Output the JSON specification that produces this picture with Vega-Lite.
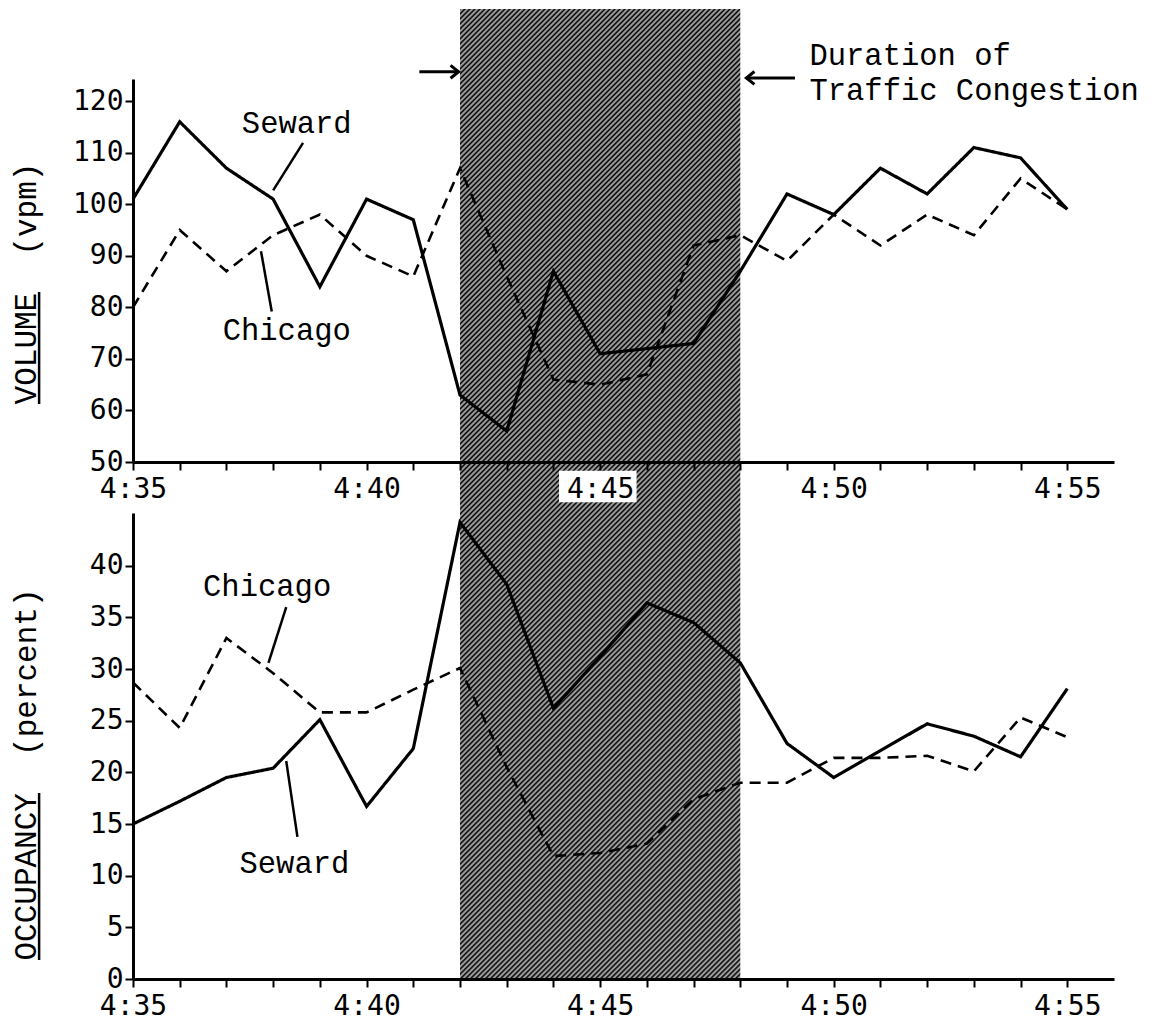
{
  "$schema": "https://vega.github.io/schema/vega-lite/v6.json",
  "padding": {"left": 9, "top": 8, "right": 5, "bottom": 5},
  "background": "white",
  "bounds": "flush",
  "spacing": 51,
  "config": {
    "view": {"stroke": null},
    "font": "Liberation Mono",
    "axis": {
      "domainColor": "black", "domainWidth": 3, "tickColor": "black", "tickWidth": 2, "tickSize": 8,
      "labelColor": "black", "labelFont": "DejaVu Sans Mono", "labelFontSize": 28, "grid": false,
      "titleFont": "Liberation Mono", "titleFontSize": 31, "titleFontWeight": "normal", "titleColor": "black"
    },
    "text": {"font": "Liberation Mono", "fontSize": 30.5, "fill": "black", "align": "left", "baseline": "alphabetic"}
  },
  "datasets": {
    "traffic": [
      {"minute": 35, "station": "Seward", "volume": 101, "occupancy": 15.0},
      {"minute": 36, "station": "Seward", "volume": 116, "occupancy": 17.2},
      {"minute": 37, "station": "Seward", "volume": 107, "occupancy": 19.5},
      {"minute": 38, "station": "Seward", "volume": 101, "occupancy": 20.4},
      {"minute": 39, "station": "Seward", "volume": 84, "occupancy": 25.1},
      {"minute": 40, "station": "Seward", "volume": 101, "occupancy": 16.7},
      {"minute": 41, "station": "Seward", "volume": 97, "occupancy": 22.3},
      {"minute": 42, "station": "Seward", "volume": 63, "occupancy": 44.2},
      {"minute": 43, "station": "Seward", "volume": 56, "occupancy": 38.2},
      {"minute": 44, "station": "Seward", "volume": 87, "occupancy": 26.2},
      {"minute": 45, "station": "Seward", "volume": 71, "occupancy": 31.2},
      {"minute": 46, "station": "Seward", "volume": 72, "occupancy": 36.4},
      {"minute": 47, "station": "Seward", "volume": 73, "occupancy": 34.5},
      {"minute": 48, "station": "Seward", "volume": 87, "occupancy": 30.6},
      {"minute": 49, "station": "Seward", "volume": 102, "occupancy": 22.8},
      {"minute": 50, "station": "Seward", "volume": 98, "occupancy": 19.5},
      {"minute": 51, "station": "Seward", "volume": 107, "occupancy": 22.1},
      {"minute": 52, "station": "Seward", "volume": 102, "occupancy": 24.7},
      {"minute": 53, "station": "Seward", "volume": 111, "occupancy": 23.5},
      {"minute": 54, "station": "Seward", "volume": 109, "occupancy": 21.5},
      {"minute": 55, "station": "Seward", "volume": 99, "occupancy": 28.1},
      {"minute": 35, "station": "Chicago", "volume": 80, "occupancy": 28.7},
      {"minute": 36, "station": "Chicago", "volume": 95, "occupancy": 24.3},
      {"minute": 37, "station": "Chicago", "volume": 87, "occupancy": 33.0},
      {"minute": 38, "station": "Chicago", "volume": 94, "occupancy": 29.6},
      {"minute": 39, "station": "Chicago", "volume": 98, "occupancy": 25.8},
      {"minute": 40, "station": "Chicago", "volume": 90, "occupancy": 25.8},
      {"minute": 41, "station": "Chicago", "volume": 86, "occupancy": 28.0},
      {"minute": 42, "station": "Chicago", "volume": 107, "occupancy": 30.1},
      {"minute": 43, "station": "Chicago", "volume": 86, "occupancy": 20.5},
      {"minute": 44, "station": "Chicago", "volume": 66, "occupancy": 11.9},
      {"minute": 45, "station": "Chicago", "volume": 65, "occupancy": 12.2},
      {"minute": 46, "station": "Chicago", "volume": 67, "occupancy": 13.1},
      {"minute": 47, "station": "Chicago", "volume": 92, "occupancy": 17.4},
      {"minute": 48, "station": "Chicago", "volume": 94, "occupancy": 19.0},
      {"minute": 49, "station": "Chicago", "volume": 89, "occupancy": 19.0},
      {"minute": 50, "station": "Chicago", "volume": 98, "occupancy": 21.4},
      {"minute": 51, "station": "Chicago", "volume": 92, "occupancy": 21.4},
      {"minute": 52, "station": "Chicago", "volume": 98, "occupancy": 21.6},
      {"minute": 53, "station": "Chicago", "volume": 94, "occupancy": 20.1},
      {"minute": 54, "station": "Chicago", "volume": 105, "occupancy": 25.3},
      {"minute": 55, "station": "Chicago", "volume": 99, "occupancy": 23.4}
    ],
    "congestion": [{"start": 42, "end": 48, "top": 137.9, "bottom": -50.3}],
    "labelBox": [{"start": 44.12, "end": 45.78, "top": 48.3, "bottom": 42.2}],
    "volumeNotes": [
      {"minute": 37.33, "value": 113.8, "note": "Seward"},
      {"minute": 36.92, "value": 73.7, "note": "Chicago"},
      {"minute": 49.48, "value": 127.0, "note": "Duration of"},
      {"minute": 49.48, "value": 120.2, "note": "Traffic Congestion"}
    ],
    "volumeLeaders": [
      {"m1": 38.64, "v1": 111.9, "m2": 38.0, "v2": 102.7},
      {"m1": 37.74, "v1": 90.9, "m2": 37.97, "v2": 79.2},
      {"m1": 32.99, "v1": 82.98, "m2": 32.99, "v2": 61.25}
    ],
    "arrows": [
      {"from": 41.13, "to": 41.97, "value": 125.7, "dir": "right"},
      {"from": 49.17, "to": 48.13, "value": 124.5, "dir": "left"}
    ],
    "occupancyNotes": [
      {"minute": 36.5, "value": 37.1, "note": "Chicago"},
      {"minute": 37.28, "value": 10.3, "note": "Seward"}
    ],
    "occupancyLeaders": [
      {"m1": 38.28, "v1": 36.0, "m2": 37.9, "v2": 30.6},
      {"m1": 38.52, "v1": 13.75, "m2": 38.28, "v2": 21.1},
      {"m1": 32.99, "v1": 18.0, "m2": 32.99, "v2": 1.84}
    ]
  },
  "vconcat": [
    {
      "width": 981,
      "height": 383,
      "layer": [
        {
          "data": {"name": "congestion"},
          "mark": {"type": "rect", "fill": {"gradient": "linear", "x1": 0, "y1": 0, "x2": 0.3437, "y2": 1.1896, "stops": [
{"offset":0,"color":"#000"},{"offset":0.002,"color":"#bbb"},{"offset":0.004,"color":"#000"},{"offset":0.006,"color":"#bbb"},{"offset":0.008,"color":"#000"},{"offset":0.01,"color":"#bbb"},{"offset":0.012,"color":"#000"},{"offset":0.014,"color":"#bbb"},{"offset":0.016,"color":"#000"},{"offset":0.018,"color":"#bbb"},
{"offset":0.02,"color":"#000"},{"offset":0.022,"color":"#bbb"},{"offset":0.024,"color":"#000"},{"offset":0.026,"color":"#bbb"},{"offset":0.028,"color":"#000"},{"offset":0.03,"color":"#bbb"},{"offset":0.032,"color":"#000"},{"offset":0.034,"color":"#bbb"},{"offset":0.036,"color":"#000"},{"offset":0.038,"color":"#bbb"},
{"offset":0.04,"color":"#000"},{"offset":0.042,"color":"#bbb"},{"offset":0.044,"color":"#000"},{"offset":0.046,"color":"#bbb"},{"offset":0.048,"color":"#000"},{"offset":0.05,"color":"#bbb"},{"offset":0.052,"color":"#000"},{"offset":0.054,"color":"#bbb"},{"offset":0.056,"color":"#000"},{"offset":0.058,"color":"#bbb"},
{"offset":0.06,"color":"#000"},{"offset":0.062,"color":"#bbb"},{"offset":0.064,"color":"#000"},{"offset":0.066,"color":"#bbb"},{"offset":0.068,"color":"#000"},{"offset":0.07,"color":"#bbb"},{"offset":0.072,"color":"#000"},{"offset":0.074,"color":"#bbb"},{"offset":0.076,"color":"#000"},{"offset":0.078,"color":"#bbb"},
{"offset":0.08,"color":"#000"},{"offset":0.082,"color":"#bbb"},{"offset":0.084,"color":"#000"},{"offset":0.086,"color":"#bbb"},{"offset":0.088,"color":"#000"},{"offset":0.09,"color":"#bbb"},{"offset":0.092,"color":"#000"},{"offset":0.094,"color":"#bbb"},{"offset":0.096,"color":"#000"},{"offset":0.098,"color":"#bbb"},
{"offset":0.1,"color":"#000"},{"offset":0.102,"color":"#bbb"},{"offset":0.104,"color":"#000"},{"offset":0.106,"color":"#bbb"},{"offset":0.108,"color":"#000"},{"offset":0.11,"color":"#bbb"},{"offset":0.112,"color":"#000"},{"offset":0.114,"color":"#bbb"},{"offset":0.116,"color":"#000"},{"offset":0.118,"color":"#bbb"},
{"offset":0.12,"color":"#000"},{"offset":0.122,"color":"#bbb"},{"offset":0.124,"color":"#000"},{"offset":0.126,"color":"#bbb"},{"offset":0.128,"color":"#000"},{"offset":0.13,"color":"#bbb"},{"offset":0.132,"color":"#000"},{"offset":0.134,"color":"#bbb"},{"offset":0.136,"color":"#000"},{"offset":0.138,"color":"#bbb"},
{"offset":0.14,"color":"#000"},{"offset":0.142,"color":"#bbb"},{"offset":0.144,"color":"#000"},{"offset":0.146,"color":"#bbb"},{"offset":0.148,"color":"#000"},{"offset":0.15,"color":"#bbb"},{"offset":0.152,"color":"#000"},{"offset":0.154,"color":"#bbb"},{"offset":0.156,"color":"#000"},{"offset":0.158,"color":"#bbb"},
{"offset":0.16,"color":"#000"},{"offset":0.162,"color":"#bbb"},{"offset":0.164,"color":"#000"},{"offset":0.166,"color":"#bbb"},{"offset":0.168,"color":"#000"},{"offset":0.17,"color":"#bbb"},{"offset":0.172,"color":"#000"},{"offset":0.174,"color":"#bbb"},{"offset":0.176,"color":"#000"},{"offset":0.178,"color":"#bbb"},
{"offset":0.18,"color":"#000"},{"offset":0.182,"color":"#bbb"},{"offset":0.184,"color":"#000"},{"offset":0.186,"color":"#bbb"},{"offset":0.188,"color":"#000"},{"offset":0.19,"color":"#bbb"},{"offset":0.192,"color":"#000"},{"offset":0.194,"color":"#bbb"},{"offset":0.196,"color":"#000"},{"offset":0.198,"color":"#bbb"},
{"offset":0.2,"color":"#000"},{"offset":0.202,"color":"#bbb"},{"offset":0.204,"color":"#000"},{"offset":0.206,"color":"#bbb"},{"offset":0.208,"color":"#000"},{"offset":0.21,"color":"#bbb"},{"offset":0.212,"color":"#000"},{"offset":0.214,"color":"#bbb"},{"offset":0.216,"color":"#000"},{"offset":0.218,"color":"#bbb"},
{"offset":0.22,"color":"#000"},{"offset":0.222,"color":"#bbb"},{"offset":0.224,"color":"#000"},{"offset":0.226,"color":"#bbb"},{"offset":0.228,"color":"#000"},{"offset":0.23,"color":"#bbb"},{"offset":0.232,"color":"#000"},{"offset":0.234,"color":"#bbb"},{"offset":0.236,"color":"#000"},{"offset":0.238,"color":"#bbb"},
{"offset":0.24,"color":"#000"},{"offset":0.242,"color":"#bbb"},{"offset":0.244,"color":"#000"},{"offset":0.246,"color":"#bbb"},{"offset":0.248,"color":"#000"},{"offset":0.25,"color":"#bbb"},{"offset":0.252,"color":"#000"},{"offset":0.254,"color":"#bbb"},{"offset":0.256,"color":"#000"},{"offset":0.258,"color":"#bbb"},
{"offset":0.26,"color":"#000"},{"offset":0.262,"color":"#bbb"},{"offset":0.264,"color":"#000"},{"offset":0.266,"color":"#bbb"},{"offset":0.268,"color":"#000"},{"offset":0.27,"color":"#bbb"},{"offset":0.272,"color":"#000"},{"offset":0.274,"color":"#bbb"},{"offset":0.276,"color":"#000"},{"offset":0.278,"color":"#bbb"},
{"offset":0.28,"color":"#000"},{"offset":0.282,"color":"#bbb"},{"offset":0.284,"color":"#000"},{"offset":0.286,"color":"#bbb"},{"offset":0.288,"color":"#000"},{"offset":0.29,"color":"#bbb"},{"offset":0.292,"color":"#000"},{"offset":0.294,"color":"#bbb"},{"offset":0.296,"color":"#000"},{"offset":0.298,"color":"#bbb"},
{"offset":0.3,"color":"#000"},{"offset":0.302,"color":"#bbb"},{"offset":0.304,"color":"#000"},{"offset":0.306,"color":"#bbb"},{"offset":0.308,"color":"#000"},{"offset":0.31,"color":"#bbb"},{"offset":0.312,"color":"#000"},{"offset":0.314,"color":"#bbb"},{"offset":0.316,"color":"#000"},{"offset":0.318,"color":"#bbb"},
{"offset":0.32,"color":"#000"},{"offset":0.322,"color":"#bbb"},{"offset":0.324,"color":"#000"},{"offset":0.326,"color":"#bbb"},{"offset":0.328,"color":"#000"},{"offset":0.33,"color":"#bbb"},{"offset":0.332,"color":"#000"},{"offset":0.334,"color":"#bbb"},{"offset":0.336,"color":"#000"},{"offset":0.338,"color":"#bbb"},
{"offset":0.34,"color":"#000"},{"offset":0.342,"color":"#bbb"},{"offset":0.344,"color":"#000"},{"offset":0.346,"color":"#bbb"},{"offset":0.348,"color":"#000"},{"offset":0.35,"color":"#bbb"},{"offset":0.352,"color":"#000"},{"offset":0.354,"color":"#bbb"},{"offset":0.356,"color":"#000"},{"offset":0.358,"color":"#bbb"},
{"offset":0.36,"color":"#000"},{"offset":0.362,"color":"#bbb"},{"offset":0.364,"color":"#000"},{"offset":0.366,"color":"#bbb"},{"offset":0.368,"color":"#000"},{"offset":0.37,"color":"#bbb"},{"offset":0.372,"color":"#000"},{"offset":0.374,"color":"#bbb"},{"offset":0.376,"color":"#000"},{"offset":0.378,"color":"#bbb"},
{"offset":0.38,"color":"#000"},{"offset":0.382,"color":"#bbb"},{"offset":0.384,"color":"#000"},{"offset":0.386,"color":"#bbb"},{"offset":0.388,"color":"#000"},{"offset":0.39,"color":"#bbb"},{"offset":0.392,"color":"#000"},{"offset":0.394,"color":"#bbb"},{"offset":0.396,"color":"#000"},{"offset":0.398,"color":"#bbb"},
{"offset":0.4,"color":"#000"},{"offset":0.402,"color":"#bbb"},{"offset":0.404,"color":"#000"},{"offset":0.406,"color":"#bbb"},{"offset":0.408,"color":"#000"},{"offset":0.41,"color":"#bbb"},{"offset":0.412,"color":"#000"},{"offset":0.414,"color":"#bbb"},{"offset":0.416,"color":"#000"},{"offset":0.418,"color":"#bbb"},
{"offset":0.42,"color":"#000"},{"offset":0.422,"color":"#bbb"},{"offset":0.424,"color":"#000"},{"offset":0.426,"color":"#bbb"},{"offset":0.428,"color":"#000"},{"offset":0.43,"color":"#bbb"},{"offset":0.432,"color":"#000"},{"offset":0.434,"color":"#bbb"},{"offset":0.436,"color":"#000"},{"offset":0.438,"color":"#bbb"},
{"offset":0.44,"color":"#000"},{"offset":0.442,"color":"#bbb"},{"offset":0.444,"color":"#000"},{"offset":0.446,"color":"#bbb"},{"offset":0.448,"color":"#000"},{"offset":0.45,"color":"#bbb"},{"offset":0.452,"color":"#000"},{"offset":0.454,"color":"#bbb"},{"offset":0.456,"color":"#000"},{"offset":0.458,"color":"#bbb"},
{"offset":0.46,"color":"#000"},{"offset":0.462,"color":"#bbb"},{"offset":0.464,"color":"#000"},{"offset":0.466,"color":"#bbb"},{"offset":0.468,"color":"#000"},{"offset":0.47,"color":"#bbb"},{"offset":0.472,"color":"#000"},{"offset":0.474,"color":"#bbb"},{"offset":0.476,"color":"#000"},{"offset":0.478,"color":"#bbb"},
{"offset":0.48,"color":"#000"},{"offset":0.482,"color":"#bbb"},{"offset":0.484,"color":"#000"},{"offset":0.486,"color":"#bbb"},{"offset":0.488,"color":"#000"},{"offset":0.49,"color":"#bbb"},{"offset":0.492,"color":"#000"},{"offset":0.494,"color":"#bbb"},{"offset":0.496,"color":"#000"},{"offset":0.498,"color":"#bbb"},
{"offset":0.5,"color":"#000"},{"offset":0.502,"color":"#bbb"},{"offset":0.504,"color":"#000"},{"offset":0.506,"color":"#bbb"},{"offset":0.508,"color":"#000"},{"offset":0.51,"color":"#bbb"},{"offset":0.512,"color":"#000"},{"offset":0.514,"color":"#bbb"},{"offset":0.516,"color":"#000"},{"offset":0.518,"color":"#bbb"},
{"offset":0.52,"color":"#000"},{"offset":0.522,"color":"#bbb"},{"offset":0.524,"color":"#000"},{"offset":0.526,"color":"#bbb"},{"offset":0.528,"color":"#000"},{"offset":0.53,"color":"#bbb"},{"offset":0.532,"color":"#000"},{"offset":0.534,"color":"#bbb"},{"offset":0.536,"color":"#000"},{"offset":0.538,"color":"#bbb"},
{"offset":0.54,"color":"#000"},{"offset":0.542,"color":"#bbb"},{"offset":0.544,"color":"#000"},{"offset":0.546,"color":"#bbb"},{"offset":0.548,"color":"#000"},{"offset":0.55,"color":"#bbb"},{"offset":0.552,"color":"#000"},{"offset":0.554,"color":"#bbb"},{"offset":0.556,"color":"#000"},{"offset":0.558,"color":"#bbb"},
{"offset":0.56,"color":"#000"},{"offset":0.562,"color":"#bbb"},{"offset":0.564,"color":"#000"},{"offset":0.566,"color":"#bbb"},{"offset":0.568,"color":"#000"},{"offset":0.57,"color":"#bbb"},{"offset":0.572,"color":"#000"},{"offset":0.574,"color":"#bbb"},{"offset":0.576,"color":"#000"},{"offset":0.578,"color":"#bbb"},
{"offset":0.58,"color":"#000"},{"offset":0.582,"color":"#bbb"},{"offset":0.584,"color":"#000"},{"offset":0.586,"color":"#bbb"},{"offset":0.588,"color":"#000"},{"offset":0.59,"color":"#bbb"},{"offset":0.592,"color":"#000"},{"offset":0.594,"color":"#bbb"},{"offset":0.596,"color":"#000"},{"offset":0.598,"color":"#bbb"},
{"offset":0.6,"color":"#000"},{"offset":0.602,"color":"#bbb"},{"offset":0.604,"color":"#000"},{"offset":0.606,"color":"#bbb"},{"offset":0.608,"color":"#000"},{"offset":0.61,"color":"#bbb"},{"offset":0.612,"color":"#000"},{"offset":0.614,"color":"#bbb"},{"offset":0.616,"color":"#000"},{"offset":0.618,"color":"#bbb"},
{"offset":0.62,"color":"#000"},{"offset":0.622,"color":"#bbb"},{"offset":0.624,"color":"#000"},{"offset":0.626,"color":"#bbb"},{"offset":0.628,"color":"#000"},{"offset":0.63,"color":"#bbb"},{"offset":0.632,"color":"#000"},{"offset":0.634,"color":"#bbb"},{"offset":0.636,"color":"#000"},{"offset":0.638,"color":"#bbb"},
{"offset":0.64,"color":"#000"},{"offset":0.642,"color":"#bbb"},{"offset":0.644,"color":"#000"},{"offset":0.646,"color":"#bbb"},{"offset":0.648,"color":"#000"},{"offset":0.65,"color":"#bbb"},{"offset":0.652,"color":"#000"},{"offset":0.654,"color":"#bbb"},{"offset":0.656,"color":"#000"},{"offset":0.658,"color":"#bbb"},
{"offset":0.66,"color":"#000"},{"offset":0.662,"color":"#bbb"},{"offset":0.664,"color":"#000"},{"offset":0.666,"color":"#bbb"},{"offset":0.668,"color":"#000"},{"offset":0.67,"color":"#bbb"},{"offset":0.672,"color":"#000"},{"offset":0.674,"color":"#bbb"},{"offset":0.676,"color":"#000"},{"offset":0.678,"color":"#bbb"},
{"offset":0.68,"color":"#000"},{"offset":0.682,"color":"#bbb"},{"offset":0.684,"color":"#000"},{"offset":0.686,"color":"#bbb"},{"offset":0.688,"color":"#000"},{"offset":0.69,"color":"#bbb"},{"offset":0.692,"color":"#000"},{"offset":0.694,"color":"#bbb"},{"offset":0.696,"color":"#000"},{"offset":0.698,"color":"#bbb"},
{"offset":0.7,"color":"#000"},{"offset":0.702,"color":"#bbb"},{"offset":0.704,"color":"#000"},{"offset":0.706,"color":"#bbb"},{"offset":0.708,"color":"#000"},{"offset":0.71,"color":"#bbb"},{"offset":0.712,"color":"#000"},{"offset":0.714,"color":"#bbb"},{"offset":0.716,"color":"#000"},{"offset":0.718,"color":"#bbb"},
{"offset":0.72,"color":"#000"},{"offset":0.722,"color":"#bbb"},{"offset":0.724,"color":"#000"},{"offset":0.726,"color":"#bbb"},{"offset":0.728,"color":"#000"},{"offset":0.73,"color":"#bbb"},{"offset":0.732,"color":"#000"},{"offset":0.734,"color":"#bbb"},{"offset":0.736,"color":"#000"},{"offset":0.738,"color":"#bbb"},
{"offset":0.74,"color":"#000"},{"offset":0.742,"color":"#bbb"},{"offset":0.744,"color":"#000"},{"offset":0.746,"color":"#bbb"},{"offset":0.748,"color":"#000"},{"offset":0.75,"color":"#bbb"},{"offset":0.752,"color":"#000"},{"offset":0.754,"color":"#bbb"},{"offset":0.756,"color":"#000"},{"offset":0.758,"color":"#bbb"},
{"offset":0.76,"color":"#000"},{"offset":0.762,"color":"#bbb"},{"offset":0.764,"color":"#000"},{"offset":0.766,"color":"#bbb"},{"offset":0.768,"color":"#000"},{"offset":0.77,"color":"#bbb"},{"offset":0.772,"color":"#000"},{"offset":0.774,"color":"#bbb"},{"offset":0.776,"color":"#000"},{"offset":0.778,"color":"#bbb"},
{"offset":0.78,"color":"#000"},{"offset":0.782,"color":"#bbb"},{"offset":0.784,"color":"#000"},{"offset":0.786,"color":"#bbb"},{"offset":0.788,"color":"#000"},{"offset":0.79,"color":"#bbb"},{"offset":0.792,"color":"#000"},{"offset":0.794,"color":"#bbb"},{"offset":0.796,"color":"#000"},{"offset":0.798,"color":"#bbb"},
{"offset":0.8,"color":"#000"},{"offset":0.802,"color":"#bbb"},{"offset":0.804,"color":"#000"},{"offset":0.806,"color":"#bbb"},{"offset":0.808,"color":"#000"},{"offset":0.81,"color":"#bbb"},{"offset":0.812,"color":"#000"},{"offset":0.814,"color":"#bbb"},{"offset":0.816,"color":"#000"},{"offset":0.818,"color":"#bbb"},
{"offset":0.82,"color":"#000"},{"offset":0.822,"color":"#bbb"},{"offset":0.824,"color":"#000"},{"offset":0.826,"color":"#bbb"},{"offset":0.828,"color":"#000"},{"offset":0.83,"color":"#bbb"},{"offset":0.832,"color":"#000"},{"offset":0.834,"color":"#bbb"},{"offset":0.836,"color":"#000"},{"offset":0.838,"color":"#bbb"},
{"offset":0.84,"color":"#000"},{"offset":0.842,"color":"#bbb"},{"offset":0.844,"color":"#000"},{"offset":0.846,"color":"#bbb"},{"offset":0.848,"color":"#000"},{"offset":0.85,"color":"#bbb"},{"offset":0.852,"color":"#000"},{"offset":0.854,"color":"#bbb"},{"offset":0.856,"color":"#000"},{"offset":0.858,"color":"#bbb"},
{"offset":0.86,"color":"#000"},{"offset":0.862,"color":"#bbb"},{"offset":0.864,"color":"#000"},{"offset":0.866,"color":"#bbb"},{"offset":0.868,"color":"#000"},{"offset":0.87,"color":"#bbb"},{"offset":0.872,"color":"#000"},{"offset":0.874,"color":"#bbb"},{"offset":0.876,"color":"#000"},{"offset":0.878,"color":"#bbb"},
{"offset":0.88,"color":"#000"},{"offset":0.882,"color":"#bbb"},{"offset":0.884,"color":"#000"},{"offset":0.886,"color":"#bbb"},{"offset":0.888,"color":"#000"},{"offset":0.89,"color":"#bbb"},{"offset":0.892,"color":"#000"},{"offset":0.894,"color":"#bbb"},{"offset":0.896,"color":"#000"},{"offset":0.898,"color":"#bbb"},
{"offset":0.9,"color":"#000"},{"offset":0.902,"color":"#bbb"},{"offset":0.904,"color":"#000"},{"offset":0.906,"color":"#bbb"},{"offset":0.908,"color":"#000"},{"offset":0.91,"color":"#bbb"},{"offset":0.912,"color":"#000"},{"offset":0.914,"color":"#bbb"},{"offset":0.916,"color":"#000"},{"offset":0.918,"color":"#bbb"},
{"offset":0.92,"color":"#000"},{"offset":0.922,"color":"#bbb"},{"offset":0.924,"color":"#000"},{"offset":0.926,"color":"#bbb"},{"offset":0.928,"color":"#000"},{"offset":0.93,"color":"#bbb"},{"offset":0.932,"color":"#000"},{"offset":0.934,"color":"#bbb"},{"offset":0.936,"color":"#000"},{"offset":0.938,"color":"#bbb"},
{"offset":0.94,"color":"#000"},{"offset":0.942,"color":"#bbb"},{"offset":0.944,"color":"#000"},{"offset":0.946,"color":"#bbb"},{"offset":0.948,"color":"#000"},{"offset":0.95,"color":"#bbb"},{"offset":0.952,"color":"#000"},{"offset":0.954,"color":"#bbb"},{"offset":0.956,"color":"#000"},{"offset":0.958,"color":"#bbb"},
{"offset":0.96,"color":"#000"},{"offset":0.962,"color":"#bbb"},{"offset":0.964,"color":"#000"},{"offset":0.966,"color":"#bbb"},{"offset":0.968,"color":"#000"},{"offset":0.97,"color":"#bbb"},{"offset":0.972,"color":"#000"},{"offset":0.974,"color":"#bbb"},{"offset":0.976,"color":"#000"},{"offset":0.978,"color":"#bbb"},
{"offset":0.98,"color":"#000"},{"offset":0.982,"color":"#bbb"},{"offset":0.984,"color":"#000"},{"offset":0.986,"color":"#bbb"},{"offset":0.988,"color":"#000"},{"offset":0.99,"color":"#bbb"},{"offset":0.992,"color":"#000"},{"offset":0.994,"color":"#bbb"},{"offset":0.996,"color":"#000"},{"offset":0.998,"color":"#bbb"},
{"offset":1,"color":"#000"}
          ]}},
          "encoding": {
            "x": {"field": "start", "type": "quantitative", "scale": {"domain": [35, 56], "nice": false, "zero": false},
              "axis": {"title": null, "values": [35, 36, 37, 38, 39, 40, 41, 42, 43, 44, 45, 46, 47, 48, 49, 50, 51, 52, 53, 54, 55], "labelExpr": "datum.value % 5 == 0 ? '4:' + datum.value : ''", "labelOverlap": false, "labelFlush": false, "labelPadding": 5, "zindex": 1}},
            "x2": {"field": "end"},
            "y": {"field": "top", "type": "quantitative", "scale": {"domain": [50, 124.3], "nice": false, "zero": false},
              "axis": {"title": "VOLUME\u00a0\u00a0(vpm)", "values": [50, 60, 70, 80, 90, 100, 110, 120], "titleX": -91, "titleY": 204, "titleAngle": -90, "titleAlign": "center", "titleBaseline": "bottom", "labelPadding": 2}},
            "y2": {"field": "bottom"}
          }
        },
        {
          "data": {"name": "labelBox"},
          "mark": {"type": "rect", "fill": "white"},
          "encoding": {
            "x": {"field": "start", "type": "quantitative"},
            "x2": {"field": "end"},
            "y": {"field": "top", "type": "quantitative"},
            "y2": {"field": "bottom"}
          }
        },
        {
          "data": {"name": "traffic"},
          "mark": {"type": "line", "color": "black", "strokeJoin": "miter"},
          "encoding": {
            "x": {"field": "minute", "type": "quantitative"},
            "y": {"field": "volume", "type": "quantitative"},
            "detail": {"field": "station"},
            "strokeDash": {"field": "station", "type": "nominal", "scale": {"domain": ["Seward", "Chicago"], "range": [[1, 0], [11, 7]]}, "legend": null},
            "strokeWidth": {"field": "station", "type": "nominal", "scale": {"domain": ["Seward", "Chicago"], "range": [3.2, 2.6]}, "legend": null}
          }
        },
        {
          "data": {"name": "volumeLeaders"},
          "mark": {"type": "rule", "color": "black", "strokeWidth": 2.5},
          "encoding": {
            "x": {"field": "m1", "type": "quantitative"},
            "x2": {"field": "m2"},
            "y": {"field": "v1", "type": "quantitative"},
            "y2": {"field": "v2"}
          }
        },
        {
          "data": {"name": "arrows"},
          "mark": {"type": "rule", "color": "black", "strokeWidth": 3},
          "encoding": {
            "x": {"field": "from", "type": "quantitative"},
            "x2": {"field": "to"},
            "y": {"field": "value", "type": "quantitative"}
          }
        },
        {
          "data": {"name": "arrows"},
          "mark": {"type": "point", "filled": false, "stroke": "black", "strokeWidth": 3, "opacity": 1, "size": 260},
          "encoding": {
            "x": {"field": "to", "type": "quantitative"},
            "y": {"field": "value", "type": "quantitative"},
            "shape": {"field": "dir", "type": "nominal", "scale": {"domain": ["right", "left"], "range": ["M-1,-0.8L0,0L-1,0.8", "M1,-0.8L0,0L1,0.8"]}, "legend": null}
          }
        },
        {
          "data": {"name": "volumeNotes"},
          "mark": {"type": "text"},
          "encoding": {
            "x": {"field": "minute", "type": "quantitative"},
            "y": {"field": "value", "type": "quantitative"},
            "text": {"field": "note"}
          }
        }
      ]
    },
    {
      "width": 981,
      "height": 466,
      "layer": [
        {
          "data": {"name": "traffic"},
          "mark": {"type": "line", "color": "black", "strokeJoin": "miter"},
          "encoding": {
            "x": {"field": "minute", "type": "quantitative", "scale": {"domain": [35, 56], "nice": false, "zero": false},
              "axis": {"title": null, "values": [35, 36, 37, 38, 39, 40, 41, 42, 43, 44, 45, 46, 47, 48, 49, 50, 51, 52, 53, 54, 55], "labelExpr": "datum.value % 5 == 0 ? '4:' + datum.value : ''", "labelOverlap": false, "labelFlush": false, "labelPadding": 5}},
            "y": {"field": "occupancy", "type": "quantitative", "scale": {"domain": [0, 45.1], "nice": false},
              "axis": {"title": "OCCUPANCY\u00a0\u00a0(percent)", "values": [0, 5, 10, 15, 20, 25, 30, 35, 40], "titleX": -91, "titleY": 261, "titleAngle": -90, "titleAlign": "center", "titleBaseline": "bottom", "labelPadding": 2}},
            "detail": {"field": "station"},
            "strokeDash": {"field": "station", "type": "nominal", "scale": {"domain": ["Seward", "Chicago"], "range": [[1, 0], [11, 7]]}, "legend": null},
            "strokeWidth": {"field": "station", "type": "nominal", "scale": {"domain": ["Seward", "Chicago"], "range": [3.2, 2.6]}, "legend": null}
          }
        },
        {
          "data": {"name": "occupancyLeaders"},
          "mark": {"type": "rule", "color": "black", "strokeWidth": 2.5},
          "encoding": {
            "x": {"field": "m1", "type": "quantitative"},
            "x2": {"field": "m2"},
            "y": {"field": "v1", "type": "quantitative"},
            "y2": {"field": "v2"}
          }
        },
        {
          "data": {"name": "occupancyNotes"},
          "mark": {"type": "text"},
          "encoding": {
            "x": {"field": "minute", "type": "quantitative"},
            "y": {"field": "value", "type": "quantitative"},
            "text": {"field": "note"}
          }
        }
      ]
    }
  ]
}
